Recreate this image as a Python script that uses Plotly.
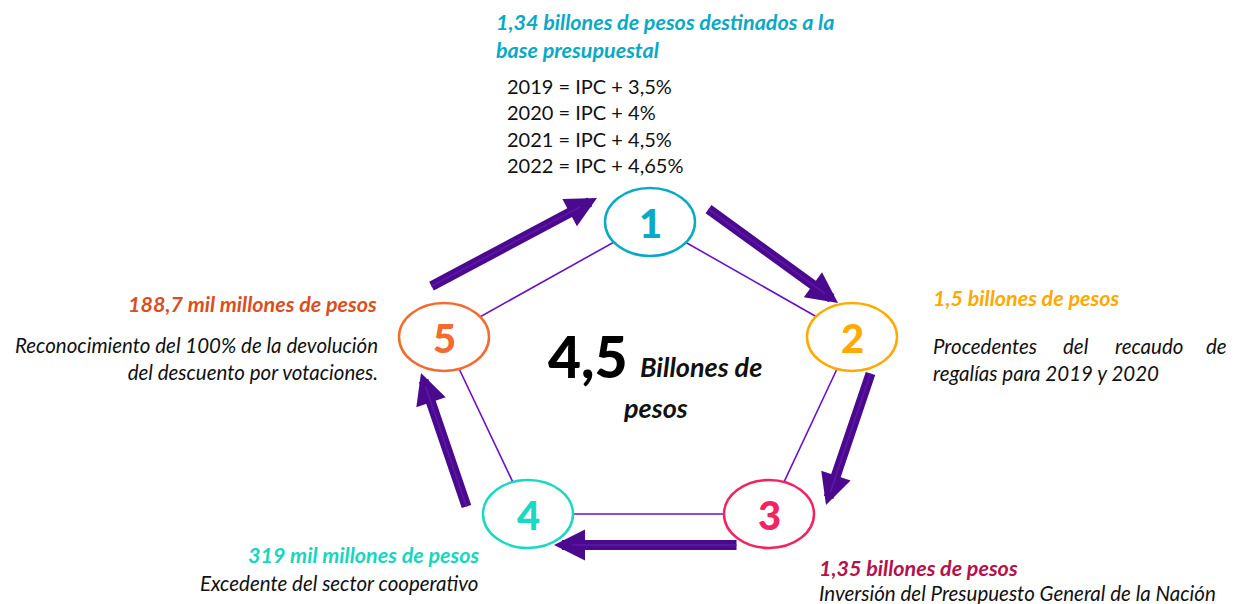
import plotly.graph_objects as go

# ---------------- data ----------------
node_labels = ["1", "2", "3", "4", "5"]
node_colors = ["#0AAAC6", "#FFAA00", "#F2245F", "#1AD8C2", "#F56A2E"]
heading_colors = ["#0AA9C5", "#FFA800", "#B3124B", "#17D6C0", "#D9501E"]
headings = [
    "1,34 billones de pesos destinados a la<br>base presupuestal",
    "1,5 billones de pesos",
    "1,35 billones de pesos",
    "319 mil millones de pesos",
    "188,7 mil millones de pesos",
]
ipc_years = ["2019", "2020", "2021", "2022"]
ipc_extra = ["3,5%", "4%", "4,5%", "4,65%"]
desc_2_words = ["Procedentes", "del", "recaudo", "de"]
desc_2_line2 = "regalías para 2019 y 2020"
desc_3 = "Inversión del Presupuesto General de la Nación"
desc_4 = "Excedente del sector cooperativo"
desc_5 = "Reconocimiento del 100% de la devolución<br>del descuento por votaciones."
total_value = "4,5"
total_unit = ["Billones de", "pesos"]

# ---------------- layout constants ----------------
W, H = 1238, 604
centers = [(650, 222), (852, 337), (769, 514), (528, 514), (444, 337)]
RX, RY = 45, 34
arrows = [  # (tail, tip)
    ((707, 208), (838, 303)),
    ((871, 372), (826, 505)),
    ((738, 545), (554, 545)),
    ((467, 508), (421, 373)),
    ((430, 287), (597, 198)),
]
ARROW_COLOR = "#4B0A8E"
ARROW_INNER = "#5E18AA"
LINE_COLOR = "#6A10C8"
FONT = "Lato"
BODY = 20.5
HEAD = 21.5

fig = go.Figure()
fig.add_trace(go.Scatter(x=[0, W], y=[0, H], mode="markers",
                         marker=dict(opacity=0), hoverinfo="skip", showlegend=False))

# pentagon lines
for i in range(5):
    (x0, y0), (x1, y1) = centers[i], centers[(i + 1) % 5]
    fig.add_shape(type="line", x0=x0, y0=y0, x1=x1, y1=y1,
                  line=dict(color=LINE_COLOR, width=1.6))

# ellipses and numbers
for (cx, cy), lab, col in zip(centers, node_labels, node_colors):
    fig.add_shape(type="circle", x0=cx - RX, x1=cx + RX, y0=cy - RY, y1=cy + RY,
                  line=dict(color=col, width=2.5), fillcolor="white")
    fig.add_annotation(x=cx, y=cy + 1, text=lab, showarrow=False,
                       font=dict(family=FONT, size=40, color=col, weight=900))

# arrows
for (t, h) in arrows:
    fig.add_annotation(x=h[0], y=h[1], ax=t[0], ay=t[1], xref="x", yref="y",
                       axref="x", ayref="y", text="", showarrow=True,
                       arrowhead=2, arrowsize=0.62, arrowwidth=10,
                       arrowcolor=ARROW_COLOR, standoff=0)
    mx = t[0] + (h[0] - t[0]) * 0.9
    my = t[1] + (h[1] - t[1]) * 0.9
    fig.add_annotation(x=mx, y=my, ax=t[0], ay=t[1], xref="x", yref="y",
                       axref="x", ayref="y", text="", showarrow=True,
                       arrowhead=0, arrowwidth=1.5, arrowcolor=ARROW_INNER,
                       standoff=0)

def txt(x, y, s, color="#111111", size=BODY, xanchor="left", weight=400,
        style="normal", align="left"):
    fig.add_annotation(x=x, y=y, text=s, showarrow=False, xanchor=xanchor,
                       yanchor="middle", align=align,
                       font=dict(family=FONT, size=size, color=color,
                                 weight=weight, style=style))

# node 1 texts
fig.add_annotation(x=494, y=36, text=headings[0], showarrow=False, xanchor="left",
                   yanchor="middle", align="left",
                   font=dict(family=FONT, size=HEAD, color=heading_colors[0],
                             weight=700, style="italic"))
for k, (yr, ex) in enumerate(zip(ipc_years, ipc_extra)):
    txt(505, 86 + k * 26.3, f"{yr} = IPC + {ex}", size=20)

# node 2 texts
txt(931, 298, headings[1], color=heading_colors[1], size=HEAD, weight=700, style="italic")
word_x = [931, 1076, 1149, 1229]
for k, (wd, wx) in enumerate(zip(desc_2_words, word_x)):
    txt(wx, 346, wd, style="italic",
        xanchor="right" if k == len(desc_2_words) - 1 else ("left" if k == 0 else "center"))
txt(931, 373, desc_2_line2, style="italic")

# node 3 texts
txt(817, 568, headings[2], color=heading_colors[2], size=HEAD, weight=700, style="italic")
txt(817, 593, desc_3, style="italic")

# node 4 texts
txt(481, 555, headings[3], color=heading_colors[3], size=HEAD, weight=700,
    style="italic", xanchor="right")
txt(481, 583, desc_4, style="italic", xanchor="right")

# node 5 texts
txt(379, 304, headings[4], color=heading_colors[4], size=HEAD, weight=700,
    style="italic", xanchor="right")
fig.add_annotation(x=380, y=358, text=desc_5, showarrow=False, xanchor="right",
                   yanchor="middle", align="right",
                   font=dict(family=FONT, size=BODY, color="#111111", style="italic"))

# center total
txt(546, 356, total_value, color="#000000", size=57, weight=900)
txt(638, 366, total_unit[0], color="#111111", size=27, weight=700, style="italic")
fig.add_annotation(x=655, y=407, text=total_unit[1], showarrow=False,
                   font=dict(family=FONT, size=27, color="#111111", weight=700,
                             style="italic"))

fig.update_xaxes(range=[0, W], visible=False, fixedrange=True)
fig.update_yaxes(range=[H, 0], visible=False, fixedrange=True)
fig.update_layout(width=W, height=H, margin=dict(l=0, r=0, t=0, b=0),
                  paper_bgcolor="white", plot_bgcolor="white", showlegend=False)

fig.write_html("out.html", post_script="document.body.style.margin='0';",
               config={"displayModeBar": False})
